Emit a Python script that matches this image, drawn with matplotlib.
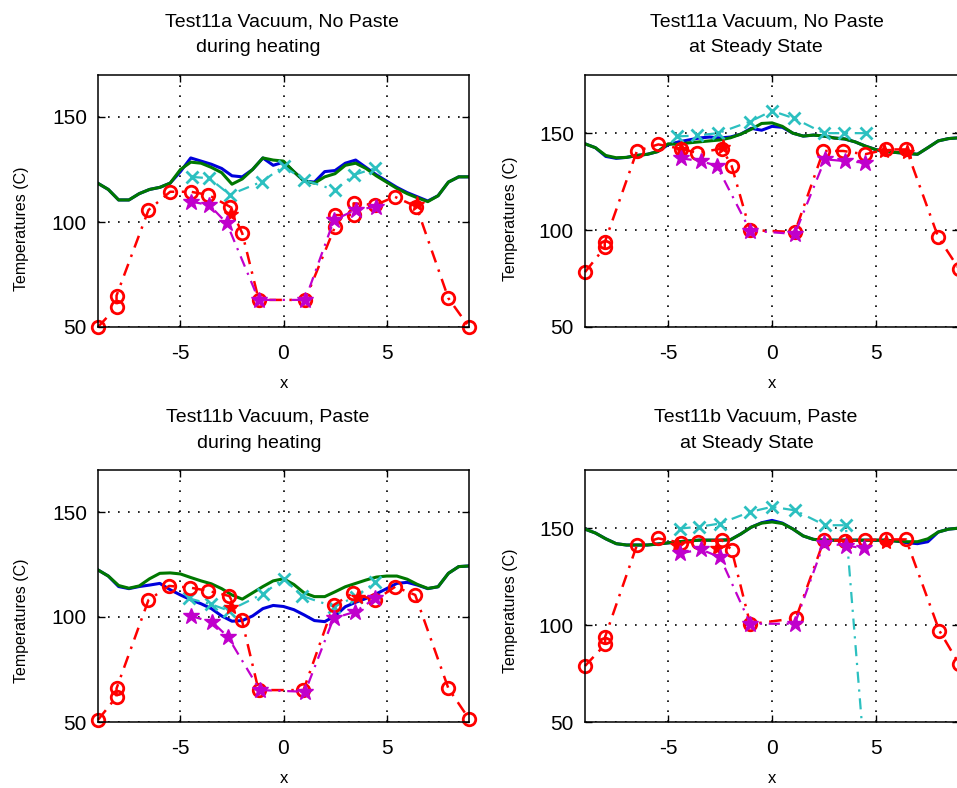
"""
Test11a / Test11b temperature profiles along x
heating phase vs steady state, 2x2 panels
"""

import matplotlib
matplotlib.use('Agg')
import matplotlib.pyplot as plt

plt.rcParams['font.family'] = ['Liberation Sans', 'DejaVu Sans']
plt.rcParams['axes.unicode_minus'] = False

# x positions of the continuous scan (blue / green)
LINE_X = [-9.0, -8.5, -8.0, -7.5, -7.0, -6.5, -6.0, -5.5, -5.0, -4.5, -4.0, -3.5,
          -3.0, -2.5, -2.0, -1.5, -1.0, -0.5, 0.0, 0.5, 1.0, 1.5, 2.0, 2.5, 3.0,
          3.5, 4.0, 4.5, 5.0, 5.5, 6.0, 6.5, 7.0, 7.5, 8.0, 8.5, 9.0]

# --- Test11a, during heating ---
A_HEAT_BLUE = [118.4, 115.5, 110.5, 110.5, 113.5, 115.5, 116.5, 118.5, 124, 130.5, 129, 127.5,
               125.5, 122, 121.5, 125, 130.5, 127, 128.5, 124, 119.5, 119, 124, 124.5, 128,
               129.5, 126, 122.5, 119.5, 116.5, 114, 112, 110, 112.5, 119, 121.5, 121.5]
A_HEAT_GREEN = [118.4, 115.5, 110.5, 110.5, 113.5, 115.5, 116.5, 118.5, 125, 128.5, 128, 126,
                123.5, 118, 120.5, 125, 130.5, 129.5, 129, 124, 119.5, 118.5, 121.5, 123, 127,
                128, 125.5, 122, 119, 116, 113.5, 111.5, 109.7, 112.5, 119, 121.5, 121.5]
A_HEAT_CYAN_X = [-4.45, -3.6, -2.6, -1.05, 0, 1.0, 2.5, 3.4, 4.45]
A_HEAT_CYAN_Y = [121.5, 120.8, 113, 119.2, 126.5, 120, 115.2, 122.4, 125.6]
A_HEAT_MAG_X = [-4.5, -3.6, -2.75, -1.2, 1.05, 2.45, 3.5, 4.5]
A_HEAT_MAG_Y = [109.7, 108.1, 99.4, 62.9, 62.9, 101, 105.7, 107.3]
A_HEAT_RED_X = [-9.0, -8.1, -8.1, -6.55, -5.5, -4.5, -3.65, -2.6, -2.0, -1.2, 1.05,
                2.5, 2.5, 3.4, 3.4, 4.45, 5.4, 6.45, 8.0, 9.0]
A_HEAT_RED_Y = [50, 59.5, 65, 105.7, 114.4, 114.4, 112.9, 107.3, 94.6, 62.9, 62.9,
                97.8, 103.3, 103.3, 108.9, 108.1, 112, 107.3, 63.7, 50]
A_HEAT_STAR_X = [-2.55, 6.5]
A_HEAT_STAR_Y = [104, 108.5]

# --- Test11a, steady state ---
A_SS_BLUE = [144.5, 142.5, 138, 137, 137.5, 138.5, 139.1, 140.5, 144, 145.5, 146.5, 147.5,
             148, 147.5, 148, 149.5, 152.5, 151.5, 153.5, 153, 150, 148.5, 149, 148.5, 147.5,
             147, 145.5, 143.3, 141.5, 140.5, 140, 139.6, 139.1, 142.5, 146, 147.2, 147.6]
A_SS_GREEN = [144.5, 142.5, 138.5, 137.3, 137.5, 138.5, 139.1, 140.5, 144.5, 144.2, 145, 145.5,
              146, 146.5, 147.6, 149.5, 152, 155, 155.3, 153.5, 150, 148.5, 149, 148.5, 147.5,
              147, 145.5, 143.3, 141.5, 140.5, 140, 139.6, 139.1, 142.5, 146, 147.2, 147.6]
A_SS_CYAN_X = [-4.55, -3.6, -2.6, -1.05, 0, 1.05, 2.5, 3.45, 4.5]
A_SS_CYAN_Y = [148.3, 148.8, 150, 156, 161.5, 157.7, 150, 150, 150]
A_SS_MAG_X = [-4.4, -3.4, -2.65, -1.05, 1.1, 2.55, 3.5, 4.47]
A_SS_MAG_Y = [137, 135.6, 133, 99.7, 98, 136.5, 135.6, 134.8]
A_SS_RED_X = [-9.0, -8.05, -8.05, -6.5, -5.47, -4.4, -3.62, -2.4, -1.94, -1.06, 1.1,
              2.47, 3.43, 4.47, 5.51, 6.47, 8.0, 9.0]
A_SS_RED_Y = [78.3, 91.1, 93.7, 140.8, 144.2, 142, 139.9, 142, 133, 100, 99,
              140.8, 140.8, 139.1, 141.6, 141.6, 96.3, 80]
A_SS_STAR_X = [-4.4, -2.35, 5.4, 6.5]
A_SS_STAR_Y = [142, 143, 141, 140.5]

# --- Test11b, during heating ---
B_HEAT_BLUE = [122.4, 119.5, 114.5, 113.5, 114.5, 115.2, 116, 113, 110.5, 108.2, 106.3, 104,
               100.5, 98, 98.3, 100.5, 104, 105.5, 105, 103.5, 101, 98.3, 97.8, 100.5, 104.9,
               107, 108.8, 111, 113.5, 116, 116.5, 115.2, 113.5, 114.4, 120.8, 124, 124.3]
B_HEAT_GREEN = [122.4, 119.5, 115, 113.7, 114.8, 118.2, 120.8, 121, 120.5, 118.8, 117.2, 115.8,
                113.5, 110.5, 108.5, 111.5, 114.5, 117.2, 118.2, 115.5, 111.5, 109.7, 109.7, 112,
                114.4, 116, 117.6, 119, 119.5, 119.5, 118, 115.5, 113.6, 114.4, 120.8, 124, 124.3]
B_HEAT_CYAN_X = [-4.6, -3.5, -2.65, -1.0, 0, 0.9, 2.45, 3.5, 4.45]
B_HEAT_CYAN_Y = [108.9, 106, 103, 111, 118.2, 110, 104.9, 109.7, 116.5]
B_HEAT_MAG_X = [-4.5, -3.45, -2.7, -1.15, 1.05, 2.43, 3.48, 4.45]
B_HEAT_MAG_Y = [100.5, 97.5, 90.6, 65.2, 64.4, 99.4, 102.5, 108.9]
B_HEAT_RED_X = [-9.0, -8.1, -8.1, -6.55, -5.55, -4.53, -3.68, -2.63, -2.02, -1.21, 0.97,
                2.43, 3.36, 4.45, 5.42, 6.39, 8.0, 9.0]
B_HEAT_RED_Y = [51, 62, 66, 108.1, 114.8, 114, 112.5, 110, 98.6, 65.2, 65.2,
                105.7, 111.3, 108, 114.4, 110.5, 66, 51.5]
B_HEAT_STAR_X = [-2.55, 3.6]
B_HEAT_STAR_Y = [105, 109.5]

# --- Test11b, steady state ---
B_SS_BLUE = [149.5, 147.5, 144.5, 142, 141.3, 141.3, 141.3, 141.8, 142.4, 143, 143.4, 143.8,
             143.8, 143.8, 144, 147, 150.5, 152.8, 154, 152.6, 149.6, 146, 144.2, 143.8, 143.8,
             143.8, 143.8, 143.8, 143.8, 143.8, 143.3, 142.5, 142, 143, 148, 149.5, 150]
B_SS_GREEN = [149.5, 147.5, 144.5, 142, 141.3, 141.3, 141.3, 141.8, 142.4, 143, 143.4, 143.8,
              143.8, 143.8, 144, 147, 150.5, 152.6, 153.2, 152.4, 149.6, 146, 144.2, 143.8, 143.8,
              143.8, 143.8, 143.8, 143.8, 143.8, 143.3, 143, 143, 144.5, 148, 149.5, 150]
B_SS_CYAN_X = [-4.45, -3.5, -2.5, -1.05, 0, 1.1, 2.55, 3.55, 4.5]
B_SS_CYAN_Y = [149.8, 150.7, 152.4, 158.4, 161, 159.2, 151.5, 151.5, 26]
B_SS_MAG_X = [-4.42, -3.42, -2.5, -1.05, 1.1, 2.5, 3.55, 4.45]
B_SS_MAG_Y = [137, 139, 135, 100.7, 100.7, 142.2, 141, 139.6]
B_SS_RED_X = [-9.0, -8.03, -8.03, -6.5, -5.47, -4.4, -3.54, -2.42, -1.94, -1.05, 1.15,
              2.5, 3.5, 4.47, 5.47, 6.45, 8.05, 9.0]
B_SS_RED_Y = [78.9, 90, 94, 141.3, 144.7, 142.5, 143, 143.8, 138.7, 100.5, 103.5,
              143.8, 143.5, 143.8, 144.2, 144.2, 97.2, 80]
B_SS_STAR_X = [-4.55, -2.65, 3.6, 5.5]
B_SS_STAR_Y = [141.3, 139.7, 143, 143]

TITLES = [
    ("Test11a Vacuum, No Paste", "during heating"),
    ("Test11a Vacuum, No Paste", "at Steady State"),
    ("Test11b Vacuum, Paste", "during heating"),
    ("Test11b Vacuum, Paste", "at Steady State"),
]
YLIMS = [(50, 170), (50, 180), (50, 170), (50, 180)]

BLUE = '#0000dc'
GREEN = '#007800'
CYAN = '#2cc0c0'
MAGENTA = '#c000cc'
RED = '#ff0000'
DASHDOT = (5, 3, 1, 3)

W, H = 957, 788


def px_box(left, top, right, bottom):
    """pixel box -> figure fraction rect"""
    return [left / W, 1 - bottom / H, (right - left) / W, (bottom - top) / H]


def draw_panel(ax, blue, green, cx, cy, mx, my, rx, ry, sx, sy, ylim):
    ax.plot(LINE_X, blue, color=BLUE, lw=2.2)
    ax.plot(LINE_X, green, color=GREEN, lw=2.2)
    ax.plot(cx, cy, color=CYAN, lw=1.6, dashes=DASHDOT, marker='x', ms=8, mew=2)
    ax.plot(rx, ry, color=RED, lw=1.8, dashes=DASHDOT, marker='o', ms=9,
            mfc='none', mew=2, clip_on=False)
    ax.plot(sx, sy, ls='none', color=RED, marker='*', ms=11)
    ax.plot(mx, my, color=MAGENTA, lw=1.6, dashes=DASHDOT, marker='*', ms=12)

    ax.set_xlim(-9, 9)
    ax.set_ylim(*ylim)
    ax.set_xticks([-5, 0, 5])
    ax.set_yticks([50, 100, 150])
    ax.grid(True, color='k', linestyle=(0, (1, 5)), linewidth=1.2)
    ax.tick_params(direction='in', top=True, right=True, length=5, width=1,
                   labelsize=15, pad=8)
    ax.tick_params(axis='x', pad=12)
    for sp in ax.spines.values():
        sp.set_linewidth(1.1)
    ax.set_xlabel('x', fontsize=12)
    ax.set_ylabel('Temperatures (C)', fontsize=11.5)


fig = plt.figure(figsize=(W / 100, H / 100), dpi=100)

boxes = [px_box(98, 75, 469, 327), px_box(585, 75, 959, 327),
         px_box(98, 470, 469, 722), px_box(585, 470, 959, 722)]
panels = [
    (A_HEAT_BLUE, A_HEAT_GREEN, A_HEAT_CYAN_X, A_HEAT_CYAN_Y, A_HEAT_MAG_X, A_HEAT_MAG_Y,
     A_HEAT_RED_X, A_HEAT_RED_Y, A_HEAT_STAR_X, A_HEAT_STAR_Y),
    (A_SS_BLUE, A_SS_GREEN, A_SS_CYAN_X, A_SS_CYAN_Y, A_SS_MAG_X, A_SS_MAG_Y,
     A_SS_RED_X, A_SS_RED_Y, A_SS_STAR_X, A_SS_STAR_Y),
    (B_HEAT_BLUE, B_HEAT_GREEN, B_HEAT_CYAN_X, B_HEAT_CYAN_Y, B_HEAT_MAG_X, B_HEAT_MAG_Y,
     B_HEAT_RED_X, B_HEAT_RED_Y, B_HEAT_STAR_X, B_HEAT_STAR_Y),
    (B_SS_BLUE, B_SS_GREEN, B_SS_CYAN_X, B_SS_CYAN_Y, B_SS_MAG_X, B_SS_MAG_Y,
     B_SS_RED_X, B_SS_RED_Y, B_SS_STAR_X, B_SS_STAR_Y),
]
# title line centres (px) and y-label positions (axes coords)
title_pos = [((282, 22), (258, 48)), ((767, 22), (756, 48)),
             ((268, 417), (259, 443)), ((756, 417), (747, 443))]
ylabel_pos = [(-0.186, 0.39), (-0.179, 0.43), (-0.186, 0.40), (-0.179, 0.44)]

for box, data, ylim, (t1, t2), (p1, p2), ylp in zip(boxes, panels, YLIMS, TITLES,
                                                    title_pos, ylabel_pos):
    ax = fig.add_axes(box)
    draw_panel(ax, *data, ylim)
    ax.yaxis.set_label_coords(*ylp)
    ax.xaxis.set_label_coords(0.5, -0.195)
    fig.text(p1[0] / W, 1 - p1[1] / H, t1, ha='center', va='center', fontsize=14)
    fig.text(p2[0] / W, 1 - p2[1] / H, t2, ha='center', va='center', fontsize=14)

fig.savefig('out.png', dpi=100)
